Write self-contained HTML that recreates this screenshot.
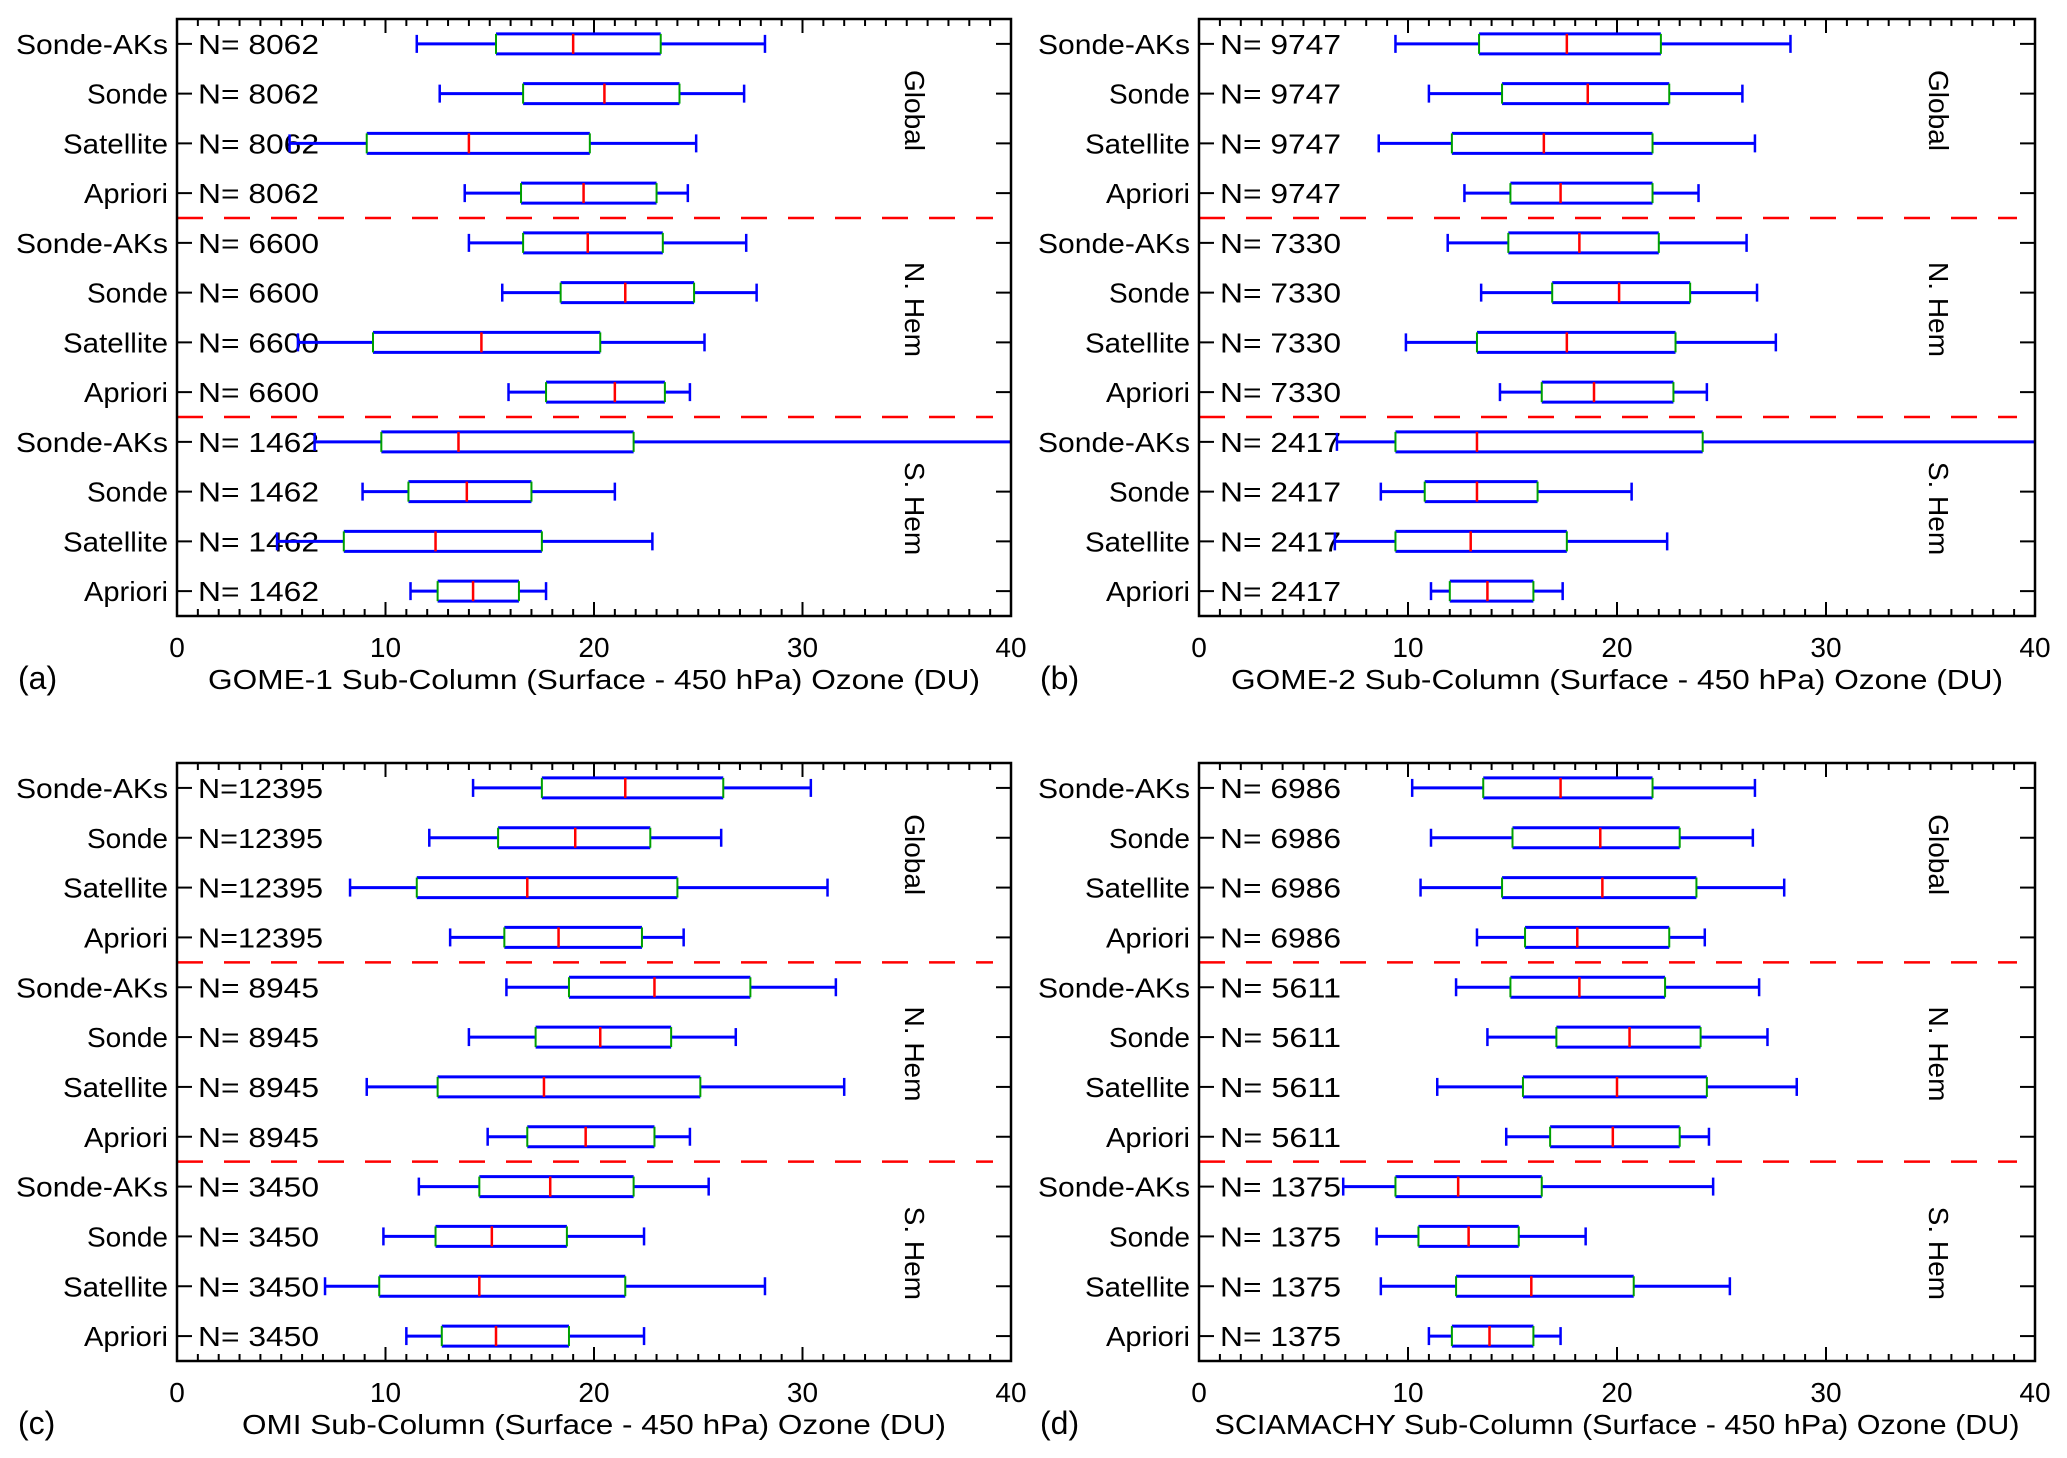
<!DOCTYPE html>
<html><head><meta charset="utf-8"><style>
html,body{margin:0;padding:0;background:#fff;}
svg{display:block;font-family:"Liberation Sans",sans-serif;}
</style></head><body>
<svg id="fig" xmlns="http://www.w3.org/2000/svg" width="2067" height="1458" viewBox="0 0 2067 1458"></svg>
<script>
const categories = ["Sonde-AKs","Sonde","Satellite","Apriori"];
const regions = ["Global","N. Hem","S. Hem"];
const xTicks = [0,10,20,30,40];
const panelTags = ["(a)","(b)","(c)","(d)"];
const panelTitles = ["GOME-1 Sub-Column (Surface - 450 hPa) Ozone (DU)","GOME-2 Sub-Column (Surface - 450 hPa) Ozone (DU)","OMI Sub-Column (Surface - 450 hPa) Ozone (DU)","SCIAMACHY Sub-Column (Surface - 450 hPa) Ozone (DU)"];
const countsA = [8062,6600,1462];
const countsB = [9747,7330,2417];
const countsC = [12395,8945,3450];
const countsD = [6986,5611,1375];
// each row: [whiskerLow, q1, median, q3, whiskerHigh]
const statsA = [[11.5,15.3,19.0,23.2,28.2],[12.6,16.6,20.5,24.1,27.2],[5.4,9.1,14.0,19.8,24.9],[13.8,16.5,19.5,23.0,24.5],
 [14.0,16.6,19.7,23.3,27.3],[15.6,18.4,21.5,24.8,27.8],[5.8,9.4,14.6,20.3,25.3],[15.9,17.7,21.0,23.4,24.6],
 [6.6,9.8,13.5,21.9,42],[8.9,11.1,13.9,17.0,21.0],[4.8,8.0,12.4,17.5,22.8],[11.2,12.5,14.2,16.4,17.7]];
const statsB = [[9.4,13.4,17.6,22.1,28.3],[11.0,14.5,18.6,22.5,26.0],[8.6,12.1,16.5,21.7,26.6],[12.7,14.9,17.3,21.7,23.9],
 [11.9,14.8,18.2,22.0,26.2],[13.5,16.9,20.1,23.5,26.7],[9.9,13.3,17.6,22.8,27.6],[14.4,16.4,18.9,22.7,24.3],
 [6.6,9.4,13.3,24.1,42],[8.7,10.8,13.3,16.2,20.7],[6.5,9.4,13.0,17.6,22.4],[11.1,12.0,13.8,16.0,17.4]];
const statsC = [[14.2,17.5,21.5,26.2,30.4],[12.1,15.4,19.1,22.7,26.1],[8.3,11.5,16.8,24.0,31.2],[13.1,15.7,18.3,22.3,24.3],
 [15.8,18.8,22.9,27.5,31.6],[14.0,17.2,20.3,23.7,26.8],[9.1,12.5,17.6,25.1,32.0],[14.9,16.8,19.6,22.9,24.6],
 [11.6,14.5,17.9,21.9,25.5],[9.9,12.4,15.1,18.7,22.4],[7.1,9.7,14.5,21.5,28.2],[11.0,12.7,15.3,18.8,22.4]];
const statsD = [[10.2,13.6,17.3,21.7,26.6],[11.1,15.0,19.2,23.0,26.5],[10.6,14.5,19.3,23.8,28.0],[13.3,15.6,18.1,22.5,24.2],
 [12.3,14.9,18.2,22.3,26.8],[13.8,17.1,20.6,24.0,27.2],[11.4,15.5,20.0,24.3,28.6],[14.7,16.8,19.8,23.0,24.4],
 [6.9,9.4,12.4,16.4,24.6],[8.5,10.5,12.9,15.3,18.5],[8.7,12.3,15.9,20.8,25.4],[11.0,12.1,13.9,16.0,17.3]];

const NS="http://www.w3.org/2000/svg";
const svg=document.getElementById('fig');
function mk(tag,attrs,parent){const e=document.createElementNS(NS,tag);for(const k in attrs)e.setAttribute(k,attrs[k]);(parent||svg).appendChild(e);return e;}

const panels=[
 {L:177,R:1011,T:19,B:616,counts:countsA,stats:statsA,tl:772},
 {L:1199,R:2035,T:19,B:616,counts:countsB,stats:statsB,tl:772},
 {L:177,R:1011,T:763,B:1361,counts:countsC,stats:statsC,tl:704},
 {L:1199,R:2035,T:763,B:1361,counts:countsD,stats:statsD,tl:805}];
const catLens=[152,81,105,84];

panels.forEach((p,pi)=>{
 const g=mk('g',{});
 
 
 const xs=v=>p.L+(p.R-p.L)*v/40;
 const rh=(p.B-p.T)/12;
 const yc=i=>p.T+(i+0.5)*rh;
 const clipId='clip'+pi;
 const cp=mk('clipPath',{id:clipId},g);
 mk('rect',{x:p.L,y:p.T,width:p.R-p.L,height:p.B-p.T},cp);
 for(let v=0;v<=40;v++){
  const len=(v%10===0)?14:7;
  mk('line',{x1:xs(v),x2:xs(v),y1:p.B,y2:p.B-len,stroke:'#000','stroke-width':2},g);
  mk('line',{x1:xs(v),x2:xs(v),y1:p.T,y2:p.T+len,stroke:'#000','stroke-width':2},g);
 }
 xTicks.forEach(v=>{
  const t=mk('text',{x:xs(v),y:p.B+41,'text-anchor':'middle','font-size':28},g);
  t.textContent=v;
  
  
 });
 const xl=mk('text',{x:(p.L+p.R)/2,y:p.B+73,'text-anchor':'middle','font-size':28,textLength:p.tl,lengthAdjust:'spacingAndGlyphs'},g);
 xl.textContent=panelTitles[pi];
 
 
 const tg=mk('text',{x:p.L-159,y:p.B+73,'font-size':32},g);
 tg.textContent=panelTags[pi];
 
 
 [4,8].forEach(k=>{
  const d=mk('line',{x1:p.L,x2:p.R-18,y1:p.T+k*rh,y2:p.T+k*rh,stroke:'#ff0000','stroke-width':2.5,'stroke-dasharray':'26,21'},g);
  
  
 });
 regions.forEach((r,ri)=>{
  const cy=p.T+(ri*4+2)*rh-8;
  const cx=p.R-96;
  const t=mk('text',{x:cx,y:cy,'text-anchor':'middle','font-size':28,transform:`rotate(90 ${cx} ${cy})`,dy:10},g);
  t.textContent=r;
  
  
 });
 p.stats.forEach((s,i)=>{
  const y=yc(i);
  const ci=i%4;
  mk('line',{x1:p.L,x2:p.L+15,y1:y,y2:y,stroke:'#000','stroke-width':2},g);
  mk('line',{x1:p.R-15,x2:p.R,y1:y,y2:y,stroke:'#000','stroke-width':2},g);
  const cl=mk('text',{x:p.L-9,y:y+10,'text-anchor':'end','font-size':28,textLength:catLens[ci],lengthAdjust:'spacingAndGlyphs'},g);
  cl.textContent=categories[ci];
  
  
  const n=p.counts[Math.floor(i/4)];
  const ns=n>=10000?('N='+n):('N= '+n);
  const nl=mk('text',{x:p.L+21,y:y+10,'font-size':28,textLength:n>=10000?125:121,lengthAdjust:'spacingAndGlyphs'},g);
  nl.textContent=ns;
  
  
  const bg=mk('g',{'clip-path':`url(#${clipId})`},g);
  
  
  const [lo,q1,md,q3,hi]=s;
  const bh=20, ch=18;
  mk('line',{x1:xs(lo),x2:xs(q1),y1:y,y2:y,stroke:'#0000ff','stroke-width':3},bg);
  mk('line',{x1:xs(q3),x2:xs(hi),y1:y,y2:y,stroke:'#0000ff','stroke-width':3},bg);
  mk('line',{x1:xs(lo),x2:xs(lo),y1:y-ch/2,y2:y+ch/2,stroke:'#0000ff','stroke-width':2.5},bg);
  mk('line',{x1:xs(hi),x2:xs(hi),y1:y-ch/2,y2:y+ch/2,stroke:'#0000ff','stroke-width':2.5},bg);
  mk('line',{x1:xs(q1),x2:xs(q3),y1:y-bh/2,y2:y-bh/2,stroke:'#0000ff','stroke-width':3},bg);
  mk('line',{x1:xs(q1),x2:xs(q3),y1:y+bh/2,y2:y+bh/2,stroke:'#0000ff','stroke-width':3},bg);
  mk('line',{x1:xs(q1),x2:xs(q1),y1:y-bh/2,y2:y+bh/2,stroke:'#00a000','stroke-width':2},bg);
  mk('line',{x1:xs(q3),x2:xs(q3),y1:y-bh/2,y2:y+bh/2,stroke:'#00a000','stroke-width':2},bg);
  mk('line',{x1:xs(md),x2:xs(md),y1:y-bh/2,y2:y+bh/2,stroke:'#ff0000','stroke-width':2.5},bg);
 });
 const fr=mk('rect',{x:p.L,y:p.T,width:p.R-p.L,height:p.B-p.T,fill:'none',stroke:'#000','stroke-width':2.5},g);
 
 
});
</script>
</body></html>
